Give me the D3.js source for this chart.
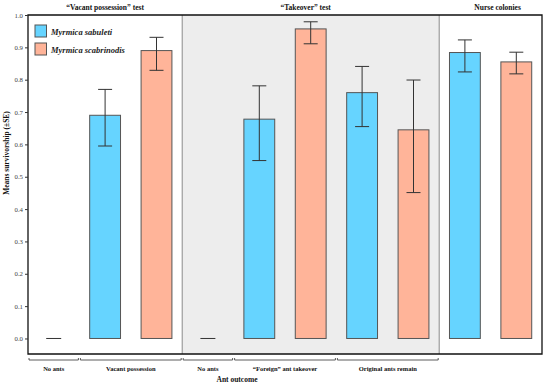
<!DOCTYPE html>
<html><head><meta charset="utf-8">
<script src="https://cdn.jsdelivr.net/npm/d3@7"></script>
<style>body{margin:0;background:#fff}svg{display:block}text{font-family:"Liberation Serif","DejaVu Serif",serif}</style>
</head><body><svg id="c" width="550" height="385"></svg>
<script>
// ---- data ----
const slots = ["va_none","va_sab","va_sca","to_none","to_for_sab","to_for_sca","to_orig_sab","to_orig_sca","nc_sab","nc_sca"];
const species = [null,"sab","sca",null,"sab","sca","sab","sca","sab","sca"];
const means  = [0, 0.690, 0.890, 0, 0.678, 0.957, 0.760, 0.645, 0.884, 0.855];
const seLow  = [null, 0.595, 0.829, null, 0.550, 0.911, 0.655, 0.451, 0.824, 0.818];
const seHigh = [null, 0.770, 0.931, null, 0.781, 0.979, 0.841, 0.799, 0.923, 0.885];
const speciesNames = ["Myrmica sabuleti","Myrmica scabrinodis"];
const speciesKeys = ["sab","sca"];
const tests = ["“Vacant possession” test","“Takeover” test","Nurse colonies"];
const testSpans = [[0,3],[3,8],[8,10]];
const outcomes = ["No ants","Vacant possession","No ants","“Foreign” ant takeover","Original ants remain"];
const outcomeSpans = [[0,1],[1,3],[3,4],[4,6],[6,8]];
const yTicks = [0,0.1,0.2,0.3,0.4,0.5,0.6,0.7,0.8,0.9,1.0];

// ---- layout ----
const svg = d3.select("#c");
const L=28, R=542, T=15, B=354;
const color = {sab:"#66D4FF", sca:"#FFB499"};
const x = d3.scaleBand().domain(slots).range([L,R]).paddingInner(0.4).paddingOuter(0.2);
const y = d3.scaleLinear().domain([-0.048,1.0]).range([B,T]);
const step = x.step(), bw = x.bandwidth();
const slotStart = i => x(slots[i]) - (step-bw)/2;
const slotEnd = i => slotStart(i-1)+step;

// grey takeover region
const ts = testSpans[1];
svg.append("rect").attr("x",slotStart(ts[0])).attr("y",T).attr("width",slotStart(ts[1])-slotStart(ts[0])).attr("height",B-T).attr("fill","#EDEDED");
[slotStart(ts[0]), slotStart(ts[1])].forEach(xx=>{
  svg.append("line").attr("x1",xx).attr("x2",xx).attr("y1",T).attr("y2",B).attr("stroke","#8a8a8a").attr("stroke-width",1);
});

// bars
const idx = d3.range(slots.length);
svg.selectAll("rect.bar").data(idx.filter(i=>species[i])).join("rect").attr("class","bar")
  .attr("x",i=>x(slots[i])).attr("width",bw)
  .attr("y",i=>y(means[i])).attr("height",i=>y(0)-y(means[i]))
  .attr("fill",i=>color[species[i]]).attr("stroke","#555").attr("stroke-width",1);

// no-ants dashes
svg.selectAll("line.zero").data(idx.filter(i=>!species[i])).join("line")
  .attr("x1",i=>x(slots[i])+bw/2-7.5).attr("x2",i=>x(slots[i])+bw/2+7.5)
  .attr("y1",i=>y(means[i])).attr("y2",i=>y(means[i])).attr("stroke","#333").attr("stroke-width",1);

// error bars
const eb = idx.filter(i=>seLow[i]!=null);
const g = svg.append("g").attr("stroke","#333").attr("stroke-width",1);
eb.forEach(i=>{
  const cx = x(slots[i])+bw/2;
  g.append("line").attr("x1",cx).attr("x2",cx).attr("y1",y(seLow[i])).attr("y2",y(seHigh[i]));
  [seLow[i],seHigh[i]].forEach(v=>g.append("line").attr("x1",cx-7).attr("x2",cx+7).attr("y1",y(v)).attr("y2",y(v)));
});

// frame
svg.append("path").attr("d",`M${L},${T}H${R}V${B}H${L}Z`).attr("fill","none").attr("stroke","#111").attr("stroke-width",1.3);

// y axis
const ya = svg.append("g").attr("transform",`translate(${L},0)`)
  .call(d3.axisLeft(y).tickValues(yTicks).tickFormat(d3.format(".1f")).tickSize(3).tickPadding(2));
ya.select(".domain").remove();
ya.selectAll("text").attr("font-family","Liberation Serif").attr("font-size",6.8).attr("fill","#444");
ya.selectAll("line").attr("stroke","#333");

svg.append("text").attr("transform",`translate(9,153) rotate(-90)`).attr("text-anchor","middle")
  .attr("font-size",7.5).attr("font-weight","bold").attr("fill","#111").text("Means survivorship (±SE)");

// test titles
const titleDx = [0,-5,7];
tests.forEach((t,k)=>{
  const [a,b] = testSpans[k];
  svg.append("text").attr("x",(slotStart(a)+slotEnd(b))/2+titleDx[k]).attr("y",10)
    .attr("text-anchor","middle").attr("font-size",7.5).attr("font-weight","bold").attr("fill","#111").text(t);
});

// outcome brackets
outcomes.forEach((o,k)=>{
  const [a,b] = outcomeSpans[k];
  const x0 = slotStart(a)+1, x1 = slotEnd(b)-1, by = 360;
  svg.append("path").attr("d",`M${x0},${by-2}V${by}H${x1}V${by-2}`).attr("fill","none").attr("stroke","#333").attr("stroke-width",0.8);
  svg.append("text").attr("x",(x0+x1)/2).attr("y",370.5).attr("text-anchor","middle")
    .attr("font-size",6.5).attr("font-weight","bold").attr("fill","#111").text(o);
});
svg.append("text").attr("x",237).attr("y",382).attr("text-anchor","middle").attr("font-size",7.5).attr("font-weight","bold").attr("fill","#111").text("Ant outcome");

// legend
speciesKeys.forEach((s,k)=>{
  const ly = 25 + k*18;
  svg.append("rect").attr("x",35).attr("y",ly).attr("width",11.5).attr("height",12).attr("fill",color[s]).attr("stroke","#555").attr("stroke-width",1);
  svg.append("text").attr("x",51).attr("y",ly+9.5).attr("font-size",8.5).attr("font-style","italic").attr("font-weight","bold").attr("fill","#222").text(speciesNames[k]);
});
</script></body></html>
